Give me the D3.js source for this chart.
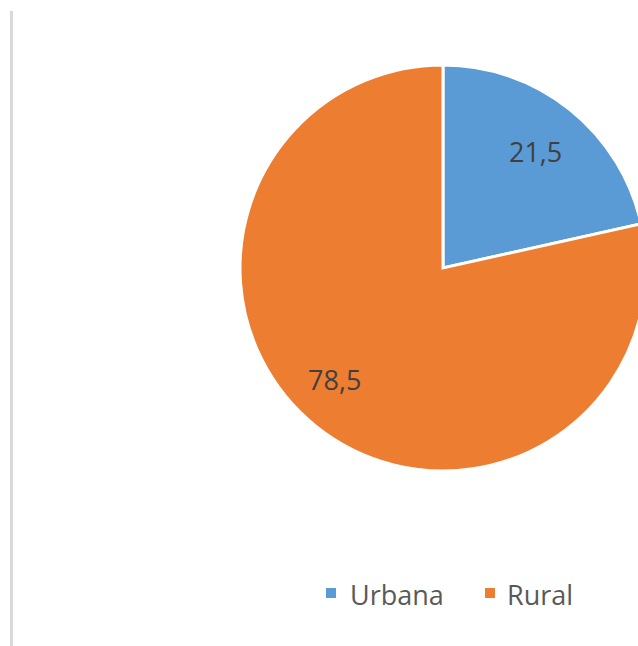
<!DOCTYPE html>
<html>
<head>
<meta charset="utf-8">
<script src="https://cdn.jsdelivr.net/npm/d3@7"></script>
<style>
html,body{margin:0;padding:0;background:#fff;}
svg{display:block;}
</style>
</head>
<body>
<svg id="chart" width="638" height="646"></svg>
<script>
const categories = ["Urbana", "Rural"];
const values = [21.5, 78.5];
const labels = ["21,5", "78,5"];
const colors = ["#5B9BD5", "#ED7D31"];

const svg = d3.select("#chart");
const W = 638, H = 646;
const cx = 443, cy = 268, R = 203;

// left border line
svg.append("line")
  .attr("x1", 11.5).attr("x2", 11.5)
  .attr("y1", 11).attr("y2", H)
  .attr("stroke", "#d9d9d9").attr("stroke-width", 3);

const pie = d3.pie().sort(null).value(d => d)(values);
const arc = d3.arc().innerRadius(0).outerRadius(R);
const labelArc = d3.arc().innerRadius(R * 0.74).outerRadius(R * 0.74);

const g = svg.append("g").attr("transform", `translate(${cx},${cy})`);

g.selectAll("path.slice")
  .data(pie)
  .join("path")
  .attr("class", "slice")
  .attr("d", arc)
  .attr("fill", (d, i) => colors[i])
  .attr("stroke", "#fff")
  .attr("stroke-width", 3)
  .attr("stroke-linejoin", "miter");

g.selectAll("text.lbl")
  .data(pie)
  .join("text")
  .attr("class", "lbl")
  .attr("transform", (d, i) => {
    // larger slice label pushed a little further around like Excel's best-fit
    const a = (d.startAngle + d.endAngle) / 2 + (i === 1 ? 0.09 : 0);
    const r = R * (i === 1 ? 0.77 : 0.73);
    return `translate(${r * Math.sin(a)},${-r * Math.cos(a)})`;
  })
  .attr("text-anchor", "middle")
  .attr("dy", "0.36em")
  .attr("font-family", "'Open Sans', sans-serif")
  .attr("font-size", 27)
  .attr("fill", "#404040")
  .text((d, i) => labels[i]);

// legend
const legend = svg.append("g");
const items = [
  { sx: 326, tx: 350 },
  { sx: 485, tx: 507 }
];
categories.forEach((c, i) => {
  legend.append("rect")
    .attr("x", items[i].sx).attr("y", 588)
    .attr("width", 10).attr("height", 10)
    .attr("fill", colors[i]);
  legend.append("text")
    .attr("x", items[i].tx).attr("y", 605)
    .attr("font-family", "'Open Sans', sans-serif")
    .attr("font-size", 27)
    .attr("fill", "#595959")
    .text(c);
});
</script>
</body>
</html>
